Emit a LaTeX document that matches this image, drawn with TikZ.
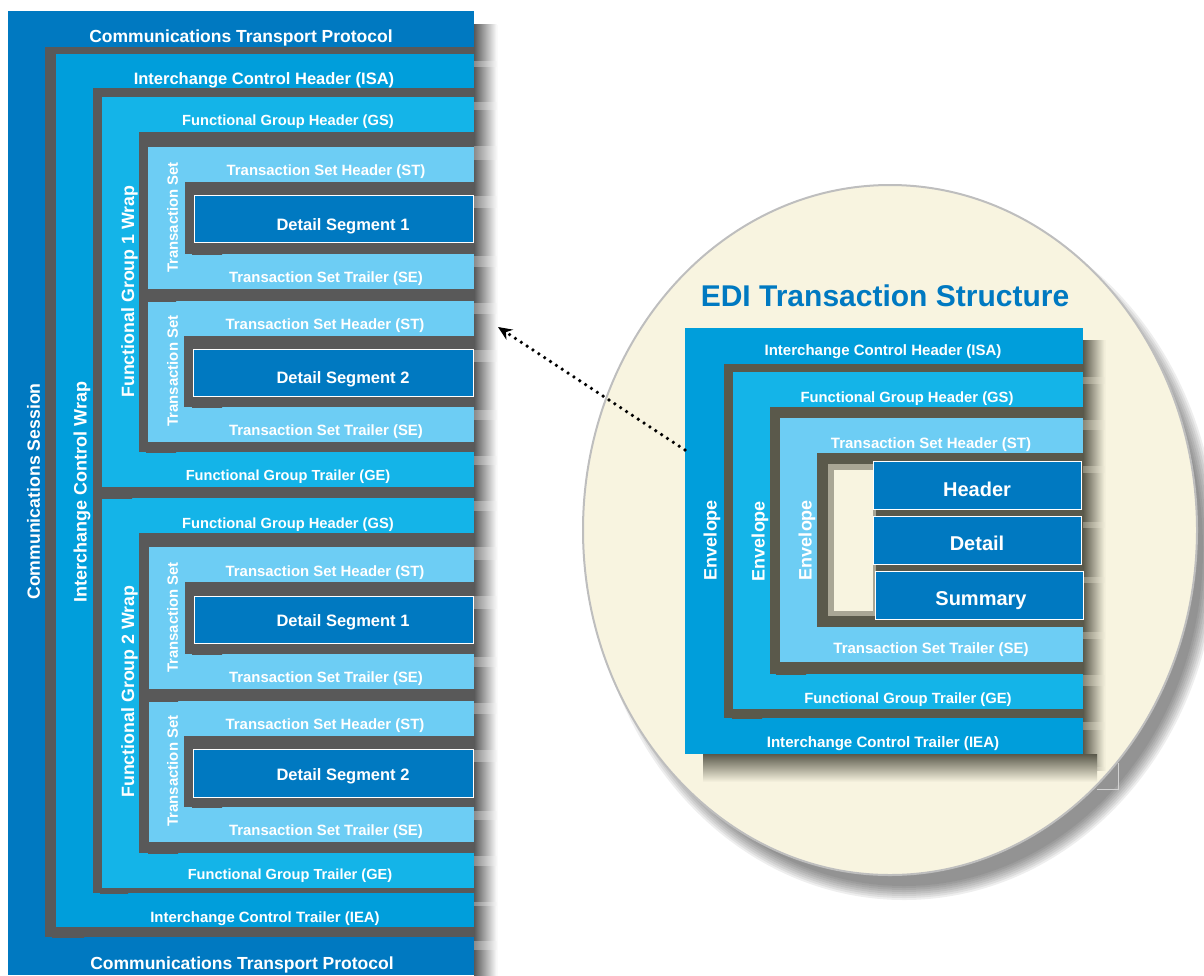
\documentclass[tikz,border=0pt]{standalone}
\usepackage{fontspec}
\setmainfont{Liberation Sans}
\usetikzlibrary{arrows.meta}

\definecolor{edidark}{RGB}{0,121,193}
\definecolor{ediisa}{RGB}{0,158,219}
\definecolor{edifg}{RGB}{20,180,232}
\definecolor{edits}{RGB}{109,205,244}
\definecolor{edishadow}{RGB}{89,89,89}
\definecolor{edicream}{RGB}{248,244,224}
\definecolor{edidusk}{RGB}{90,89,75}
\definecolor{edirim}{RGB}{190,190,190}

\tikzset{
  lbl/.style={text=white, inner sep=0pt, anchor=base, font=\bfseries\fontsize{#1}{#1}\selectfont},
  vlbl/.style={text=white, inner sep=0pt, rotate=90, font=\bfseries\fontsize{#1}{#1}\selectfont},
  segbox/.style={fill=edidark, draw=white, line width=1pt},
  rshade/.style={left color=edishadow, middle color=edishadow!80!white, right color=white},
  rbase/.style={left color=edishadow!70!white, right color=white},
  glint/.style={left color=edishadow, middle color=edishadow!30!white, right color=edishadow},
  rshadeR/.style={left color=edidusk, middle color=edidusk!80!edicream, right color=edicream},
  rbaseR/.style={left color=edidusk!70!edicream, right color=edicream},
  glintR/.style={left color=edidusk, middle color=edidusk!30!edicream, right color=edidusk},
  zoomlink/.style={line width=3.6pt, line cap=round, dash pattern=on 0pt off 7pt, -{Stealth[length=14pt, width=12pt]}}
}

\begin{document}
\begin{tikzpicture}[x=1pt, y=-1pt]
\useasboundingbox (0,0) rectangle (1204,975);

\fill[rbase] (474,25) rectangle (498,975);
\foreach \ya/\yb in {11/47,54/88,97/132,147/182,195/242,254/289,301/336,349/396,407/442,452/487,498/533,547/582,596/643,654/689,701/736,749/797,807/842,853/888,893/927,937/975}
  \shade[rshade] (474,\ya+13) rectangle (497,\yb+13);

\fill[edidark] (8,11) rectangle (474,975);
\fill[edishadow] (45,47) rectangle (474,937);
\fill[ediisa] (56,54) rectangle (474,927);
\fill[edishadow] (93,88) rectangle (474,893);
\fill[edifg] (102,97) rectangle (474,487);
\fill[edifg] (102,498) rectangle (474,888);
\fill[edishadow] (139,132) rectangle (474,452);
\fill[edishadow] (139,533) rectangle (474,853);
\fill[edits] (148,147) rectangle (474,289);
\fill[edits] (148,301) rectangle (474,442);
\fill[edits] (149,547) rectangle (474,689);
\fill[edits] (149,701) rectangle (474,842);
\fill[edishadow] (185,182) rectangle (474,254);
\fill[edishadow] (184,336) rectangle (474,407);
\fill[edishadow] (185,582) rectangle (474,654);
\fill[edishadow] (184,736) rectangle (474,807);

\shade[glint] (52,927) rectangle (84,937);
\shade[glint] (100,487) rectangle (132,498);
\shade[glint] (100,888) rectangle (128,893);
\shade[glint] (146,289) rectangle (176,301);
\shade[glint] (146,442) rectangle (176,452);
\shade[glint] (148,689) rectangle (178,701);
\shade[glint] (148,842) rectangle (178,853);
\shade[glint] (192,242) rectangle (222,254);
\shade[glint] (192,396) rectangle (222,407);
\shade[glint] (192,643) rectangle (222,654);
\shade[glint] (192,797) rectangle (222,807);

\draw[segbox] (194,195) rectangle (473,242);
\draw[segbox] (193,349) rectangle (473,396);
\draw[segbox] (194,596) rectangle (473,643);
\draw[segbox] (193,749) rectangle (473,797);

\node[lbl=17.5] (ctptop) at (241,42) {Communications Transport Protocol};
\node[lbl=16.5] (isa) at (264,84.5) {Interchange Control Header (ISA)};
\node[lbl=14.7] (gs1) at (288,125.5) {Functional Group Header (GS)};
\node[lbl=14.9] (st1) at (326,175.5) {Transaction Set Header (ST)};
\node[lbl=16.5] (ds1) at (343,230) {Detail Segment 1};
\node[lbl=14.9] (se1) at (326,282.5) {Transaction Set Trailer (SE)};
\node[lbl=14.9] (st2) at (325,329) {Transaction Set Header (ST)};
\node[lbl=16.5] (ds2) at (343,383) {Detail Segment 2};
\node[lbl=14.9] (se2) at (326,435.5) {Transaction Set Trailer (SE)};
\node[lbl=14.6] (ge1) at (288,480.5) {Functional Group Trailer (GE)};
\node[lbl=14.7] (gs2) at (288,528) {Functional Group Header (GS)};
\node[lbl=14.9] (st3) at (325,576) {Transaction Set Header (ST)};
\node[lbl=16.5] (ds3) at (343,626.5) {Detail Segment 1};
\node[lbl=14.9] (se3) at (326,682.5) {Transaction Set Trailer (SE)};
\node[lbl=14.9] (st4) at (325,729.5) {Transaction Set Header (ST)};
\node[lbl=16.5] (ds4) at (343,780) {Detail Segment 2};
\node[lbl=14.9] (se4) at (326,835.5) {Transaction Set Trailer (SE)};
\node[lbl=14.6] (ge2) at (290,879) {Functional Group Trailer (GE)};
\node[lbl=14.9] (iea) at (265,922) {Interchange Control Trailer (IEA)};
\node[lbl=17.5] (ctpbot) at (242,969) {Communications Transport Protocol};

\node[vlbl=17.7] (session) at (33.5,491.5) {Communications Session};
\node[vlbl=18] (icwrap) at (82,492) {Interchange Control Wrap};
\node[vlbl=17.8] (fg1wrap) at (129.5,291.5) {Functional Group 1 Wrap};
\node[vlbl=17.8] (fg2wrap) at (129.5,691.5) {Functional Group 2 Wrap};
\node[vlbl=14.9] (ts1) at (172.5,217.5) {Transaction Set};
\node[vlbl=14.9] (ts2) at (172.5,371) {Transaction Set};
\node[vlbl=14.9] (ts3) at (172.5,617.5) {Transaction Set};
\node[vlbl=14.9] (ts4) at (172.5,771) {Transaction Set};

\foreach \k in {0,2,...,14}
  \fill[black, opacity=0.065] (904,549) ellipse ({299+\k} and {337+\k});
\draw[edirim!70!white, line width=0.8pt] (1118,763) -- (1118,789) -- (1097,789);
\filldraw[fill=edicream, draw=edirim, line width=2pt] (890,530) ellipse (307 and 345);

\fill[rbaseR] (1083,340) rectangle (1106,770);
\foreach \ya/\yb in {328/364,372/407,418/453,461/509,516/564,571/619,627/662,674/709,718/754}
  \shade[rshadeR] (1083,\ya+12) rectangle (1105,\yb+12);
\shade[top color=edidusk, bottom color=edicream] (703,754) rectangle (1097,782);

\fill[ediisa] (685,328) rectangle (1083,754);
\fill[edidusk] (724,364) rectangle (1083,718);
\fill[edifg] (733,372) rectangle (1083,709);
\fill[edidusk] (770,407) rectangle (1083,674);
\fill[edits] (780,418) rectangle (1083,662);
\fill[edidusk] (817,453) rectangle (1083,627);
\fill[edicream, opacity=0.5] (828,464) rectangle (876,616);
\fill[edicream] (834,470) rectangle (873,611);
\shade[glintR] (776,662) rectangle (806,674);
\shade[glintR] (732,709) rectangle (762,718);

\draw[segbox] (873,461) rectangle (1081,509);
\draw[segbox] (873,516) rectangle (1081,564);
\draw[segbox] (875,571) rectangle (1083,619);

\node[lbl=30, text=edidark] (title) at (885,306) {EDI Transaction Structure};
\node[lbl=15] (risa) at (883,355) {Interchange Control Header (ISA)};
\node[lbl=14.8] (rgs) at (907,402) {Functional Group Header (GS)};
\node[lbl=15] (rst) at (931,448) {Transaction Set Header (ST)};
\node[lbl=20] (rhead) at (977,496) {Header};
\node[lbl=20] (rdetail) at (977,550) {Detail};
\node[lbl=20] (rsum) at (981,605) {Summary};
\node[lbl=15] (rse) at (931,653) {Transaction Set Trailer (SE)};
\node[lbl=14.8] (rge) at (908,703) {Functional Group Trailer (GE)};
\node[lbl=15.1] (riea) at (883,747) {Interchange Control Trailer (IEA)};
\node[vlbl=18] (env1) at (712,540) {Envelope};
\node[vlbl=18] (env2) at (760,541) {Envelope};
\node[vlbl=18] (env3) at (807,540) {Envelope};

\coordinate (zoomfrom) at (685,450);
\coordinate (zoomto) at (498,327);
\draw[zoomlink] (zoomfrom) -- (zoomto);

\end{tikzpicture}
\end{document}
